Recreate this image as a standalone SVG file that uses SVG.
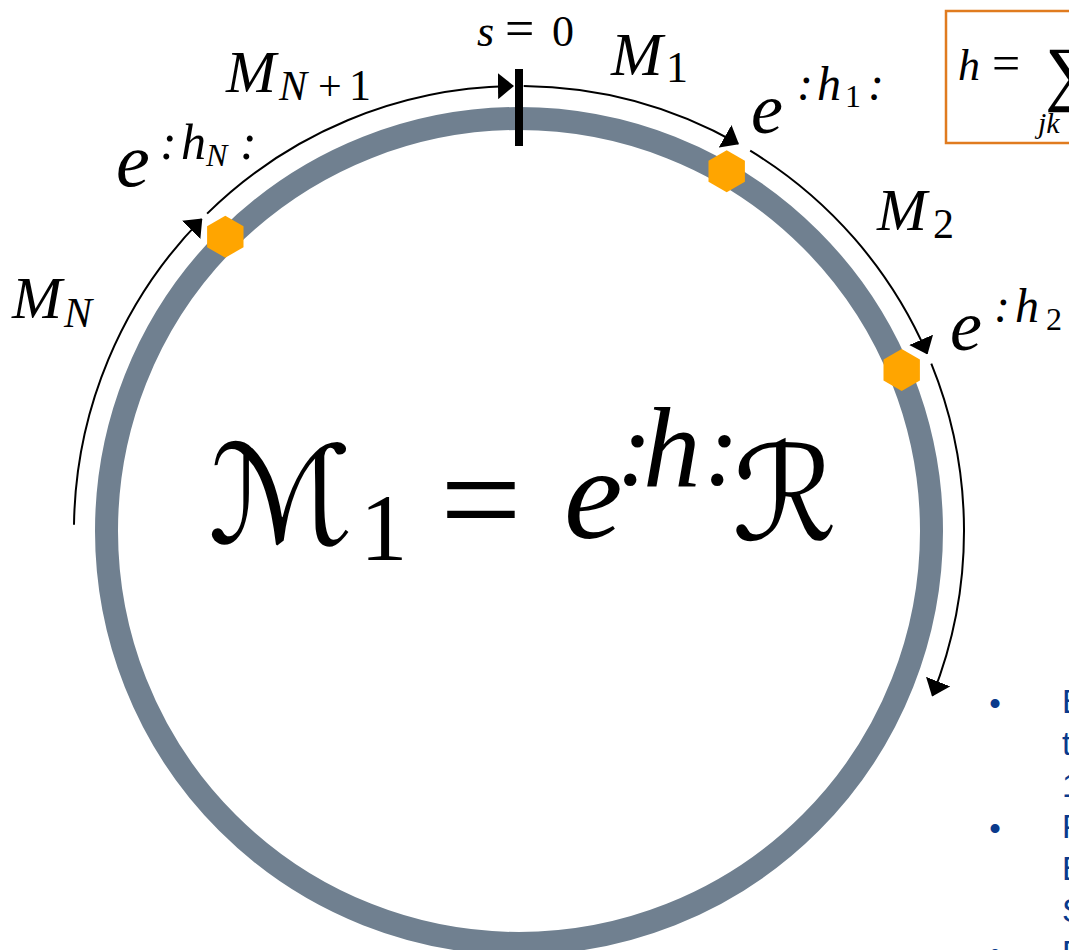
<svg xmlns="http://www.w3.org/2000/svg" width="1069" height="950" viewBox="0 0 1069 950">
<style>
.it{font-style:italic;fill:#000}
.rm{fill:#000}
.cal{fill:#000}
.arc{fill:none;stroke:#000;stroke-width:2;marker-end:url(#ah)}
.hex{fill:#FFA500}
.blue{font-size:33px;fill:#0a3a8c}
</style>
<defs>
<marker id="ah" markerUnits="userSpaceOnUse" viewBox="0 0 16 26" markerWidth="16" markerHeight="26" refX="15" refY="13" orient="auto">
<path d="M0,0 L16,13 L0,26 z" fill="#000"/>
</marker>
<polygon id="hexshape" points="0,-21 18.2,-10.5 18.2,10.5 0,21 -18.2,10.5 -18.2,-10.5"/>
</defs>
<rect width="1069" height="950" fill="#fff"/>

<g id="ring">
<circle cx="519" cy="531" r="412.5" fill="none" stroke="#708090" stroke-width="23"/>
</g>

<g id="origin" font-family="Liberation Serif, serif">
<line x1="519" y1="69" x2="519" y2="146" stroke="#000" stroke-width="8"/>
<text class="it" x="477" y="46" font-size="44">s</text>
<text class="rm" x="505" y="46" font-size="52">=</text>
<text class="rm" x="552" y="46" font-size="44">0</text>
</g>

<g id="connectors" font-family="Liberation Serif, serif">
<path class="arc" d="M207.1,213.6 A445,445 0 0 1 513.0,86.0"/>
<path class="arc" d="M523.7,86.0 A445,445 0 0 1 738.1,143.7"/>
<path class="arc" d="M750.2,150.7 A445,445 0 0 1 927.1,353.6"/>
<path class="arc" d="M931.3,363.6 A445,445 0 0 1 932.5,695.5"/>
<path class="arc" d="M74.0,524.8 A445,445 0 0 1 201.6,219.1"/>
<text class="it" x="226" y="92" font-size="60">M</text>
<text class="it" x="279" y="100" font-size="42">N</text>
<text class="rm" x="318" y="100" font-size="42">+</text>
<text class="rm" x="349" y="100" font-size="44">1</text>
<text class="it" x="611" y="75" font-size="62">M</text>
<text class="rm" x="666" y="82" font-size="44">1</text>
<text class="it" x="877" y="230" font-size="60">M</text>
<text class="rm" x="933" y="238" font-size="42">2</text>
<text class="it" x="12" y="318" font-size="60">M</text>
<text class="it" x="64" y="327" font-size="42">N</text>
</g>

<g id="nodeN" font-family="Liberation Serif, serif">
<use href="#hexshape" class="hex" x="225.3" y="236.7"/>
<text class="it" x="116" y="186" font-size="76">e</text>
<text class="it" x="160" y="159" font-size="50">:</text>
<text class="it" x="181" y="159" font-size="50">h</text>
<text class="it" x="206" y="166" font-size="32">N</text>
<text class="it" x="240" y="159" font-size="50">:</text>
</g>

<g id="node1" font-family="Liberation Serif, serif">
<use href="#hexshape" class="hex" x="726.7" y="171.3"/>
<text class="it" x="751" y="133" font-size="72">e</text>
<text class="it" x="797" y="100" font-size="48">:</text>
<text class="it" x="817" y="100" font-size="48">h</text>
<text class="rm" x="845" y="107" font-size="32">1</text>
<text class="it" x="868" y="100" font-size="48">:</text>
</g>

<g id="node2" font-family="Liberation Serif, serif">
<use href="#hexshape" class="hex" x="901.7" y="370"/>
<text class="it" x="950" y="350" font-size="72">e</text>
<text class="it" x="994" y="322" font-size="48">:</text>
<text class="it" x="1015" y="322" font-size="48">h</text>
<text class="rm" x="1046" y="330" font-size="32">2</text>
</g>

<g id="formula" font-family="Liberation Serif, serif">
<text class="cal" x="208" y="543" font-size="136" font-family="DejaVu Serif, DejaVu Sans, serif">ℳ</text>
<text class="rm" x="360" y="560" font-size="95">1</text>
<text class="rm" x="440" y="548" font-size="145">=</text>
<text class="it" x="564" y="538" font-size="132">e</text>
<text class="it" x="617" y="485" font-size="105">:</text>
<text class="it" x="643" y="487" font-size="115">h</text>
<text class="it" x="704" y="485" font-size="105">:</text>
<text class="cal" x="732" y="540" font-size="132" font-family="DejaVu Serif, DejaVu Sans, serif">ℛ</text>
</g>

<g id="hbox" font-family="Liberation Serif, serif">
<rect x="946" y="11" width="140" height="132" fill="none" stroke="#E07B1F" stroke-width="2.5"/>
<text class="it" x="958" y="80" font-size="44">h</text>
<text class="rm" x="992" y="80" font-size="50">=</text>
<text class="rm" x="1045" y="97" font-size="72">∑</text>
<text class="it" x="1038" y="133" font-size="30">jk</text>
</g>

<g id="notes" font-family="Liberation Sans, sans-serif">
<text class="blue" x="995" y="715" text-anchor="middle">•</text>
<text class="blue" x="995" y="840" text-anchor="middle">•</text>
<text class="blue" x="995" y="965" text-anchor="middle">•</text>
<text class="blue" x="1062" y="713">B</text>
<text class="blue" x="1062" y="755">t</text>
<text class="blue" x="1062" y="797">1</text>
<text class="blue" x="1062" y="838">P</text>
<text class="blue" x="1062" y="880">B</text>
<text class="blue" x="1062" y="922">S</text>
<text class="blue" x="1062" y="964">P</text>
</g>
</svg>
